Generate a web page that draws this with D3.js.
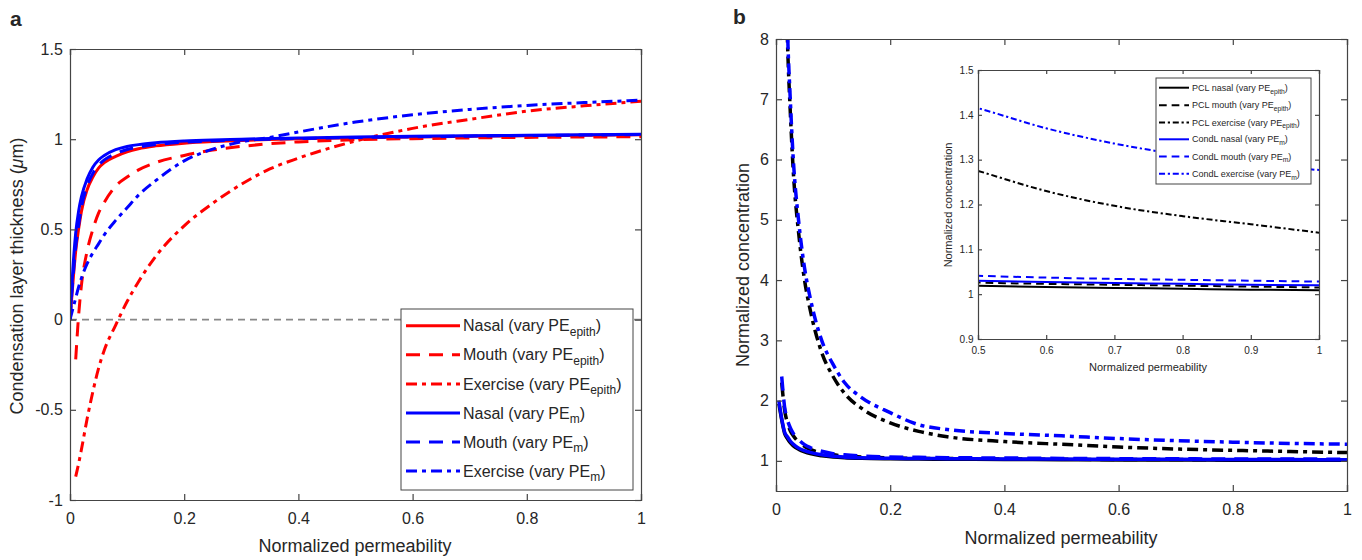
<!DOCTYPE html>
<html lang="en">
<head>
  <meta charset="UTF-8">
  <title>Condensation layer</title>
  <script src="https://d3js.org/d3.v7.min.js"></script>
  <style>
    body { margin: 0; background: #fff; }
    text { font-family: "Liberation Sans", Arial, sans-serif; fill: #262626; }
  </style>
</head>
<body>
  <script>
    // ---- panel a data ----
    var xsA = [0, 0.005, 0.01, 0.015, 0.02, 0.03, 0.04, 0.05, 0.06, 0.08, 0.1, 0.12, 0.15, 0.2, 0.25, 0.3, 0.35, 0.4, 0.5, 0.6, 0.7, 0.8, 0.9, 1];
    var nasalEpith    = [0, 0.2, 0.38, 0.5, 0.6, 0.72, 0.79, 0.84, 0.87, 0.905, 0.93, 0.947, 0.963, 0.978, 0.987, 0.993, 0.998, 1.002, 1.008, 1.012, 1.016, 1.019, 1.022, 1.025];
    var mouthEpith    = [null, null, -0.22, 0.02, 0.19, 0.38, 0.5, 0.59, 0.65, 0.74, 0.79, 0.83, 0.87, 0.91, 0.94, 0.96, 0.975, 0.985, 0.997, 1.003, 1.007, 1.01, 1.012, 1.014];
    var exerciseEpith = [null, null, -0.87, -0.8, -0.72, -0.55, -0.4, -0.27, -0.17, -0.03, 0.1, 0.21, 0.35, 0.52, 0.645, 0.75, 0.835, 0.895, 0.99, 1.06, 1.11, 1.155, 1.185, 1.21];
    var nasalM        = [0, 0.28, 0.48, 0.6, 0.68, 0.78, 0.845, 0.885, 0.91, 0.942, 0.96, 0.97, 0.98, 0.99, 0.996, 1.0, 1.004, 1.007, 1.012, 1.016, 1.019, 1.022, 1.025, 1.028];
    var mouthM        = [0, 0.22, 0.4, 0.52, 0.62, 0.74, 0.81, 0.855, 0.885, 0.92, 0.943, 0.956, 0.97, 0.983, 0.99, 0.996, 1.0, 1.004, 1.009, 1.013, 1.017, 1.02, 1.023, 1.026];
    var exerciseM     = [0, 0.06, 0.12, 0.18, 0.23, 0.31, 0.37, 0.42, 0.47, 0.55, 0.62, 0.69, 0.77, 0.88, 0.945, 0.985, 1.01, 1.04, 1.095, 1.135, 1.165, 1.187, 1.203, 1.216];

    // ---- panel b data ----
    var xsB = [0.005, 0.01, 0.015, 0.02, 0.025, 0.03, 0.04, 0.05, 0.06, 0.08, 0.1, 0.12, 0.15, 0.2, 0.25, 0.3, 0.4, 0.5, 0.6, 0.7, 0.8, 0.9, 1];
    var pclNasal     = [1.95, 1.68, 1.46, 1.37, 1.3, 1.25, 1.19, 1.15, 1.12, 1.085, 1.065, 1.053, 1.043, 1.035, 1.03, 1.027, 1.023, 1.019, 1.016, 1.014, 1.012, 1.01, 1.009];
    var pclMouth     = [null, 2.3, 1.85, 1.63, 1.5, 1.42, 1.31, 1.24, 1.19, 1.13, 1.1, 1.08, 1.065, 1.05, 1.043, 1.039, 1.032, 1.026, 1.023, 1.021, 1.019, 1.017, 1.015];
    var pclExercise  = [null, null, 10.2, 8.0, 6.8, 5.85, 4.75, 4.0, 3.5, 2.8, 2.4, 2.12, 1.87, 1.63, 1.49, 1.4, 1.32, 1.275, 1.23, 1.197, 1.174, 1.156, 1.137];
    var condNasal    = [2.0, 1.7, 1.48, 1.4, 1.33, 1.28, 1.21, 1.17, 1.14, 1.1, 1.075, 1.062, 1.052, 1.043, 1.039, 1.036, 1.033, 1.03, 1.027, 1.025, 1.023, 1.021, 1.02];
    var condMouth    = [null, 2.4, 1.9, 1.68, 1.55, 1.46, 1.35, 1.27, 1.22, 1.16, 1.12, 1.1, 1.08, 1.065, 1.058, 1.053, 1.047, 1.041, 1.037, 1.034, 1.032, 1.03, 1.028];
    var condExercise = [null, null, 10.5, 8.2, 7.0, 6.05, 4.95, 4.2, 3.7, 3.0, 2.6, 2.3, 2.05, 1.8, 1.6, 1.52, 1.455, 1.415, 1.37, 1.336, 1.31, 1.29, 1.277];

    var xTicksA = [0, 0.2, 0.4, 0.6, 0.8, 1];
    var yTicksA = [-1, -0.5, 0, 0.5, 1, 1.5];
    var xTicksB = [0, 0.2, 0.4, 0.6, 0.8, 1];
    var yTicksB = [1, 2, 3, 4, 5, 6, 7, 8];
    var xTicksI = [0.5, 0.6, 0.7, 0.8, 0.9, 1];
    var yTicksI = [0.9, 1, 1.1, 1.2, 1.3, 1.4, 1.5];

    var seriesA = [
      { name: "Nasal (vary PE", sub: "epith", xs: xsA, ys: nasalEpith, color: "#ff0000", style: "solid" },
      { name: "Mouth (vary PE", sub: "epith", xs: xsA, ys: mouthEpith, color: "#ff0000", style: "dash" },
      { name: "Exercise (vary PE", sub: "epith", xs: xsA, ys: exerciseEpith, color: "#ff0000", style: "dashdot" },
      { name: "Nasal (vary PE", sub: "m", xs: xsA, ys: nasalM, color: "#0000ff", style: "solid" },
      { name: "Mouth (vary PE", sub: "m", xs: xsA, ys: mouthM, color: "#0000ff", style: "dash" },
      { name: "Exercise (vary PE", sub: "m", xs: xsA, ys: exerciseM, color: "#0000ff", style: "dashdot" }
    ];
    var seriesB = [
      { name: "PCL nasal (vary PE", sub: "epith", xs: xsB, ys: pclNasal, color: "#000", style: "solid" },
      { name: "PCL mouth (vary PE", sub: "epith", xs: xsB, ys: pclMouth, color: "#000", style: "dash" },
      { name: "PCL exercise (vary PE", sub: "epith", xs: xsB, ys: pclExercise, color: "#000", style: "dashdot" },
      { name: "CondL nasal (vary PE", sub: "m", xs: xsB, ys: condNasal, color: "#0000ff", style: "solid" },
      { name: "CondL mouth (vary PE", sub: "m", xs: xsB, ys: condMouth, color: "#0000ff", style: "dash" },
      { name: "CondL exercise (vary PE", sub: "m", xs: xsB, ys: condExercise, color: "#0000ff", style: "dashdot" }
    ];

    var svg = d3.select("body").append("svg")
      .attr("width", 1362)
      .attr("height", 560);

    function dashFor(style, k) {
      if (style == "dash") return (14 * k) + "," + (9 * k);
      if (style == "dashdot") return (11 * k) + "," + (5 * k) + "," + (4 * k) + "," + (5 * k);
      return null;
    }

    function points(s) {
      return s.xs.map(function(x, i) { return [x, s.ys[i]]; });
    }

    // axes box with inward ticks on all four sides
    function drawAxes(g, x, y, xt, yt, fs, tick) {
      var x0 = x.range()[0], x1 = x.range()[1], y0 = y.range()[0], y1 = y.range()[1];
      var fmt = function(d) { return String(d); };

      g.append("g").attr("transform", "translate(0," + y0 + ")")
        .call(d3.axisBottom(x).tickValues(xt).tickFormat(fmt).tickSize(-tick).tickPadding(fs * 0.8));
      g.append("g").attr("transform", "translate(0," + y1 + ")")
        .call(d3.axisTop(x).tickValues(xt).tickFormat("").tickSize(-tick));
      g.append("g").attr("transform", "translate(" + x0 + ",0)")
        .call(d3.axisLeft(y).tickValues(yt).tickFormat(fmt).tickSize(-tick).tickPadding(fs * 0.45));
      g.append("g").attr("transform", "translate(" + x1 + ",0)")
        .call(d3.axisRight(y).tickValues(yt).tickFormat("").tickSize(-tick));

      g.selectAll(".domain").attr("stroke", "#444").attr("stroke-width", 1.2);
      g.selectAll(".tick line").attr("stroke", "#444").attr("stroke-width", 1.2);
      g.selectAll(".tick text").attr("font-size", fs).attr("fill", "#262626")
        .attr("font-family", "Liberation Sans, Arial, sans-serif");
    }

    function drawLines(g, s, x, y, width, k, clipId) {
      var line = d3.line()
        .defined(function(d) { return d[1] != null; })
        .x(function(d) { return x(d[0]); })
        .y(function(d) { return y(d[1]); })
        .curve(d3.curveMonotoneX);
      g.append("g").attr("clip-path", "url(#" + clipId + ")")
        .selectAll("path")
        .data(s)
        .enter()
        .append("path")
        .attr("d", function(d) { return line(points(d)); })
        .attr("fill", "none")
        .attr("stroke", function(d) { return d.color; })
        .attr("stroke-width", width)
        .attr("stroke-dasharray", function(d) { return dashFor(d.style, k); });
    }

    function clip(id, x, y) {
      svg.append("clipPath").attr("id", id).append("rect")
        .attr("x", x.range()[0]).attr("y", y.range()[1])
        .attr("width", x.range()[1] - x.range()[0])
        .attr("height", y.range()[0] - y.range()[1]);
    }

    function drawLegend(g, s, box, lineX0, lineX1, rowY, fs, width, k) {
      g.append("rect")
        .attr("x", box[0]).attr("y", box[1])
        .attr("width", box[2] - box[0]).attr("height", box[3] - box[1])
        .attr("fill", "#fff").attr("stroke", "#444").attr("stroke-width", 1);
      var row = g.selectAll(".leg").data(s).enter().append("g")
        .attr("transform", function(d, i) { return "translate(0," + rowY[i] + ")"; });
      row.append("line")
        .attr("x1", lineX0).attr("x2", lineX1)
        .attr("stroke", function(d) { return d.color; })
        .attr("stroke-width", width)
        .attr("stroke-dasharray", function(d) { return dashFor(d.style, k); });
      var t = row.append("text")
        .attr("x", lineX1 + 3)
        .attr("y", fs * 0.35)
        .attr("font-size", fs);
      t.append("tspan").text(function(d) { return d.name; });
      t.append("tspan").attr("dy", fs * 0.3).attr("font-size", fs * 0.75).text(function(d) { return d.sub; });
      t.append("tspan").attr("dy", -fs * 0.3).text(")");
    }

    // ---------------- panel a ----------------
    var xA = d3.scaleLinear().domain([0, 1]).range([70, 641]);
    var yA = d3.scaleLinear().domain([-1, 1.5]).range([500, 49]);
    var gA = svg.append("g");
    clip("clipA", xA, yA);

    gA.append("line")
      .attr("x1", xA(0)).attr("x2", xA(1))
      .attr("y1", yA(0)).attr("y2", yA(0))
      .attr("stroke", "#888").attr("stroke-width", 1.6)
      .attr("stroke-dasharray", "7,5");

    drawLines(gA, seriesA, xA, yA, 3, 1, "clipA");
    drawAxes(gA, xA, yA, xTicksA, yTicksA, 16, 6);
    drawLegend(gA, seriesA, [401, 309, 633, 490], 406, 460,
      [325.7, 354.8, 383.9, 413, 442, 471], 16, 3, 1);

    gA.append("text").attr("x", 10).attr("y", 26)
      .attr("font-size", 21).attr("font-weight", "bold").attr("fill", "#000").text("a");
    gA.append("text").attr("x", 355).attr("y", 552)
      .attr("text-anchor", "middle").attr("font-size", 18).text("Normalized permeability");
    var yl = gA.append("text")
      .attr("transform", "translate(23,276) rotate(-90)")
      .attr("text-anchor", "middle").attr("font-size", 18);
    yl.append("tspan").text("Condensation layer thickness (");
    yl.append("tspan").attr("font-style", "italic").text("μ");
    yl.append("tspan").text("m)");

    // ---------------- panel b ----------------
    var xB = d3.scaleLinear().domain([0, 1]).range([776, 1347]);
    var yB = d3.scaleLinear().domain([0.5, 8]).range([491, 39]);
    var gB = svg.append("g");
    clip("clipB", xB, yB);

    drawLines(gB, seriesB, xB, yB, 3.5, 1, "clipB");
    drawAxes(gB, xB, yB, xTicksB, yTicksB, 16, 6);

    gB.append("text").attr("x", 733).attr("y", 24)
      .attr("font-size", 21).attr("font-weight", "bold").attr("fill", "#000").text("b");
    gB.append("text").attr("x", 1061).attr("y", 544)
      .attr("text-anchor", "middle").attr("font-size", 18).text("Normalized permeability");
    gB.append("text")
      .attr("transform", "translate(749,265) rotate(-90)")
      .attr("text-anchor", "middle").attr("font-size", 18).text("Normalized concentration");

    // ---------------- inset ----------------
    var xI = d3.scaleLinear().domain([0.5, 1]).range([978, 1319]);
    var yI = d3.scaleLinear().domain([0.9, 1.5]).range([339, 70]);
    var gI = svg.append("g");
    clip("clipI", xI, yI);

    gI.append("rect")
      .attr("x", xI(0.5)).attr("y", yI(1.5))
      .attr("width", xI(1) - xI(0.5)).attr("height", yI(0.9) - yI(1.5))
      .attr("fill", "#fff");

    drawLines(gI, seriesB, xI, yI, 2, 0.55, "clipI");
    drawAxes(gI, xI, yI, xTicksI, yTicksI, 10, 4);
    drawLegend(gI, seriesB, [1156, 78, 1311, 184], 1159, 1189,
      [87.7, 105.3, 122.4, 139.3, 156.4, 173.8], 9, 2, 0.55);

    gI.append("text").attr("x", 1148).attr("y", 371)
      .attr("text-anchor", "middle").attr("font-size", 11).text("Normalized permeability");
    gI.append("text")
      .attr("transform", "translate(952,205) rotate(-90)")
      .attr("text-anchor", "middle").attr("font-size", 11).text("Normalized concentration");
  </script>
</body>
</html>
